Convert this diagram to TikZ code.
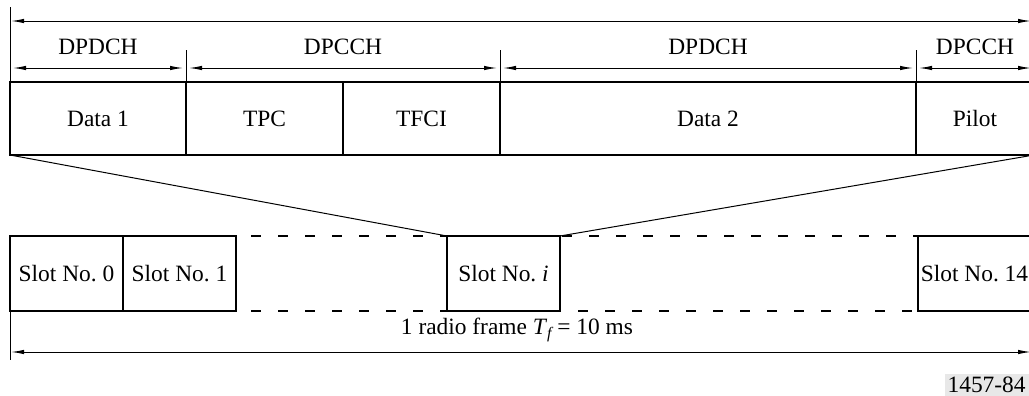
\documentclass[tikz,border=0pt]{standalone}
\usepackage{fontspec}
\setmainfont{Liberation Serif}
\usetikzlibrary{arrows.meta}
\begin{document}
\begin{tikzpicture}[x=0.5pt,y=-0.5pt,
  font=\fontsize{11.7}{14}\selectfont,
  cell/.style={draw, line width=1pt, minimum height=36.5pt, inner sep=0pt, outer sep=0pt},
  slotbox/.style={draw, line width=1pt, minimum height=37.5pt, minimum width=56.5pt, inner sep=0pt, outer sep=0pt},
  thinline/.style={line width=0.5pt},
  dimline/.style={line width=0.5pt, {Latex[length=6.5pt,width=2.2pt]}-{Latex[length=6.5pt,width=2.2pt]}, shorten <=1.5pt, shorten >=1.5pt},
  dashline/.style={line width=1pt, dash pattern=on 5pt off 8.5pt},
  lbl/.style={inner sep=0pt}]
\clip (0,0) rectangle (1029,396);
% field cells
\node[cell, minimum width=88pt]   (d1)    at (98,118.5)  {Data 1};
\node[cell, minimum width=78.5pt] (tpc)   at (264.5,118.5) {TPC};
\node[cell, minimum width=78.5pt] (tfci)  at (421.5,118.5) {TFCI};
\node[cell, minimum width=208pt]  (d2)    at (708,118.5)  {Data 2};
\node[cell, minimum width=59pt]   (pilot) at (975,118.5)  {Pilot};
% dimension coordinates
\coordinate (t0) at (10,7);
\coordinate (b0) at (10,155);
\coordinate (aL) at (10,21);
\coordinate (aR) at (1031,21);
\coordinate (k1) at (186,50);
\coordinate (k2) at (500,50);
\coordinate (k3) at (916,50);
\coordinate (r0) at (10,68);
\coordinate (r1) at (186,68);
\coordinate (r2) at (500,68);
\coordinate (r3) at (916,68);
\coordinate (r4) at (1031,68);
\draw[thinline] (t0) -- (b0);
\draw[thinline] (k1) -- (tpc.north west);
\draw[thinline] (k2) -- (d2.north west);
\draw[thinline] (k3) -- (pilot.north west);
\draw[dimline, shorten <=0.5pt, shorten >=0pt] (aL) -- (aR);
\draw[dimline] (r0) -- (r1);
\draw[dimline] (r1) -- (r2);
\draw[dimline] (r2) -- (r3);
\draw[dimline, shorten >=0pt] (r3) -- (r4);
\node[lbl] (l1) at (98,47)  {DPDCH};
\node[lbl] (l2) at (343,47) {DPCCH};
\node[lbl] (l3) at (708,47) {DPDCH};
\node[lbl] (l4) at (975,47) {DPCCH};
% slots
\node[slotbox] (s0)  at (66.5,273.5)  {Slot No.\ 0};
\node[slotbox] (s1)  at (179.5,273.5) {Slot No.\ 1};
\node[slotbox] (si)  at (503.5,273.5) {Slot No.\ \textit{i}};
\node[slotbox] (s14) at (974.5,273.5) {Slot No.\ 14};
% zoom lines
\draw[thinline] (d1.south west) -- (si.north west);
\draw[thinline] (pilot.south east) -- (si.north east);
% dashed gaps
\coordinate (g1) at (251,236);
\coordinate (g2) at (446,236);
\coordinate (g3) at (251,311);
\coordinate (g4) at (446,311);
\coordinate (g5) at (562,236);
\coordinate (g6) at (917,236);
\coordinate (g7) at (578,311);
\coordinate (g8) at (917,311);
\draw[dashline] (g1) -- (g2);
\draw[dashline] (g3) -- (g4);
\draw[dashline] (g5) -- (g6);
\draw[dashline] (g7) -- (g8);
% bottom dimension
\coordinate (f0) at (10,311);
\coordinate (f1) at (10,360);
\coordinate (fL) at (10,352);
\coordinate (fR) at (1031,352);
\draw[thinline] (f0) -- (f1);
\draw[dimline, shorten <=0.5pt, shorten >=0pt] (fL) -- (fR);
\node[lbl] (fr) at (517,330) {1 radio frame \textit{T}\raisebox{-0.45ex}{\fontsize{8}{9}\selectfont\textit{f}}\,= 10 ms};
% tag
\node[fill=black!9, inner sep=1.5pt, anchor=south east] (tag) at (1029,396) {1457-84};
\end{tikzpicture}
\end{document}
